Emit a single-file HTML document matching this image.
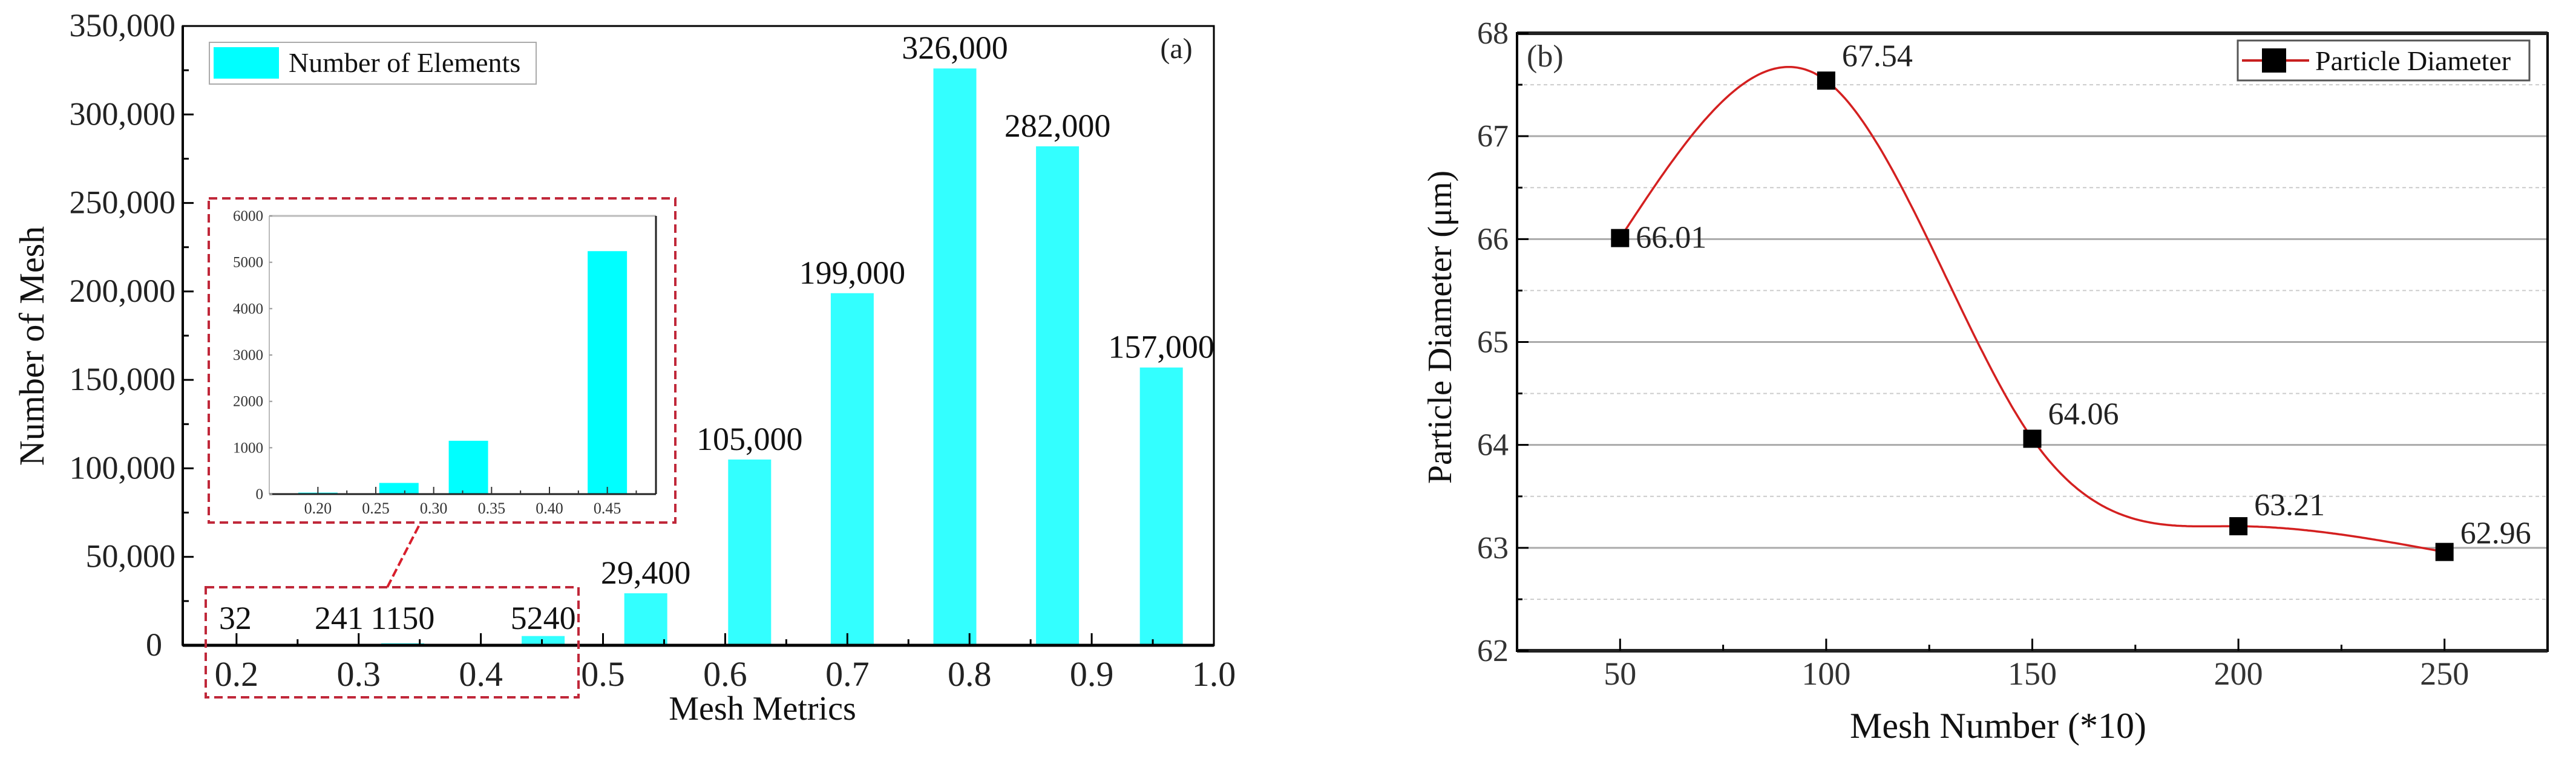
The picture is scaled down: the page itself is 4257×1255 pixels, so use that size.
<!DOCTYPE html>
<html><head><meta charset="utf-8">
<style>
html,body{margin:0;padding:0;background:#fff;}
svg{display:block;}
svg text{font-family:"Liberation Serif","Times New Roman","DejaVu Serif",serif;}
</style></head>
<body>
<svg id="fig" width="4257" height="1255" viewBox="0 0 4257 1255" xmlns="http://www.w3.org/2000/svg" font-family="Liberation Serif, Times New Roman, serif">
<g id="chartA"></g>
<g id="chartB"></g>
</svg>
<script>
// ---- Chart (a) data ----
const barX = [0.199, 0.284, 0.336, 0.451, 0.535, 0.620, 0.704, 0.788, 0.872, 0.957];
const barValues = [32, 241, 1150, 5240, 29400, 105000, 199000, 326000, 282000, 157000];
const barLabels = ["32", "241", "1150", "5240", "29,400", "105,000", "199,000", "326,000", "282,000", "157,000"];
const yTicksA = [0, 50000, 100000, 150000, 200000, 250000, 300000, 350000];
const yTickLabelsA = ["0", "50,000", "100,000", "150,000", "200,000", "250,000", "300,000", "350,000"];
const xTicksA = [0.2, 0.3, 0.4, 0.5, 0.6, 0.7, 0.8, 0.9, 1.0];
const xTickLabelsA = ["0.2", "0.3", "0.4", "0.5", "0.6", "0.7", "0.8", "0.9", "1.0"];
// inset
const insetX = [0.20, 0.27, 0.33, 0.45];
const insetValues = [32, 241, 1150, 5240];
const insetYTicks = [0, 1000, 2000, 3000, 4000, 5000, 6000];
const insetXTicks = [0.20, 0.25, 0.30, 0.35, 0.40, 0.45];
const insetXTickLabels = ["0.20", "0.25", "0.30", "0.35", "0.40", "0.45"];
// ---- Chart (b) data ----
const meshNumbers = [50, 100, 150, 200, 250];
const diameters = [66.01, 67.54, 64.06, 63.21, 62.96];
const diameterLabels = ["66.01", "67.54", "64.06", "63.21", "62.96"];
const yTicksB = [62, 63, 64, 65, 66, 67, 68];
const xTicksB = [50, 100, 150, 200, 250];

const NS = "http://www.w3.org/2000/svg";
const SERIF = '"Liberation Serif", "Times New Roman", "DejaVu Serif", serif';
function mk(parent, tag, attrs, text) {
  const e = document.createElementNS(NS, tag);
  for (const k in attrs) e.setAttribute(k, attrs[k]);
  if (tag === 'text') e.style.fontFamily = SERIF;
  if (text !== undefined) e.textContent = text;
  parent.appendChild(e);
  return e;
}

// ================= Chart A =================
const A = document.getElementById('chartA');
const aL = 302, aR = 2006, aT = 43, aB = 1067;
const axMin = 0.156, axMax = 1.0, ayMax = 350000;
const ax = v => aL + (v - axMin) / (axMax - axMin) * (aR - aL);
const ay = v => aB - v / ayMax * (aB - aT);

barValues.forEach((v, i) => {
  const w = 71;
  const r = mk(A, 'rect', {x: ax(barX[i]) - w / 2, y: ay(v), width: w, height: aB - ay(v), fill: '#33ffff'});
  
  
  const small = i < 4;
  const t = mk(A, 'text', {x: ax(barX[i]), y: small ? 1040 : ay(v) - 16, 'font-size': 54, 'text-anchor': 'middle', fill: '#111'}, barLabels[i]);
  
  
});

const frameA = mk(A, 'rect', {x: aL, y: aT, width: aR - aL, height: aB - aT, fill: 'none', stroke: '#000', 'stroke-width': 3});


mk(A, 'line', {x1: aL, y1: aB, x2: aR, y2: aB, stroke: '#000', 'stroke-width': 5});
mk(A, 'line', {x1: aL, y1: aT, x2: aL, y2: aB, stroke: '#000', 'stroke-width': 4});

yTicksA.forEach((v, i) => {
  mk(A, 'line', {x1: aL, y1: ay(v), x2: aL + 18, y2: ay(v), stroke: '#000', 'stroke-width': 3});
  if (i < yTicksA.length - 1) mk(A, 'line', {x1: aL, y1: ay(v + 25000), x2: aL + 10, y2: ay(v + 25000), stroke: '#000', 'stroke-width': 3});
  const t = mk(A, 'text', {x: i === 0 ? 268 : 290, y: ay(v) + 17, 'font-size': 54, 'text-anchor': 'end', fill: '#222'}, yTickLabelsA[i]);
  
  
});
xTicksA.forEach((v, i) => {
  mk(A, 'line', {x1: ax(v), y1: aB, x2: ax(v), y2: aB - 20, stroke: '#000', 'stroke-width': 3});
  if (v - 0.05 > axMin) mk(A, 'line', {x1: ax(v - 0.05), y1: aB, x2: ax(v - 0.05), y2: aB - 10, stroke: '#000', 'stroke-width': 3});
  const t = mk(A, 'text', {x: ax(v), y: 1134, 'font-size': 58, 'text-anchor': 'middle', fill: '#222'}, xTickLabelsA[i]);
  
  
});

const xtA = mk(A, 'text', {x: 1260, y: 1190, 'font-size': 56, 'text-anchor': 'middle', fill: '#111'}, 'Mesh  Metrics');


const ytA = mk(A, 'text', {x: 0, y: 0, 'font-size': 58, 'text-anchor': 'middle', fill: '#111', transform: 'translate(72,572) rotate(-90)'}, 'Number of  Mesh');



const legA = mk(A, 'g', {});


mk(legA, 'rect', {x: 346, y: 70, width: 540, height: 69, fill: '#fff', stroke: '#aaa', 'stroke-width': 2});
mk(legA, 'rect', {x: 353, y: 78, width: 108, height: 52, fill: '#00ffff'});
mk(legA, 'text', {x: 477, y: 119, 'font-size': 46, fill: '#111'}, 'Number of Elements');
const la = mk(A, 'text', {x: 1944, y: 96, 'font-size': 48, 'text-anchor': 'middle', fill: '#222'}, '(a)');



const zb = mk(A, 'rect', {x: 340, y: 971, width: 616, height: 182, fill: 'none', stroke: '#c0283a', 'stroke-width': 4, 'stroke-dasharray': '14 8'});


mk(A, 'line', {x1: 640, y1: 971, x2: 695, y2: 864, stroke: '#d81e2c', 'stroke-width': 4, 'stroke-dasharray': '14 6'});
const ib = mk(A, 'rect', {x: 345, y: 328, width: 771, height: 536, fill: '#fff', stroke: '#c0283a', 'stroke-width': 4, 'stroke-dasharray': '14 8'});



const I = mk(A, 'g', {});


const iL = 445, iR = 1084, iT = 357, iB = 817;
const ixMin = 0.158, ixMax = 0.492, iyMax = 6000;
const ix = v => iL + (v - ixMin) / (ixMax - ixMin) * (iR - iL);
const iy = v => iB - v / iyMax * (iB - iT);
insetValues.forEach((v, i) => {
  const w = 65;
  const r = mk(I, 'rect', {x: ix(insetX[i]) - w / 2, y: iy(v), width: w, height: iB - iy(v), fill: '#00ffff'});
  
  
});
mk(I, 'line', {x1: iL, y1: iT, x2: iR, y2: iT, stroke: '#bbb', 'stroke-width': 3});
mk(I, 'line', {x1: iR, y1: iT, x2: iR, y2: iB, stroke: '#222', 'stroke-width': 3});
mk(I, 'line', {x1: iL, y1: iT, x2: iL, y2: iB, stroke: '#bbb', 'stroke-width': 2});
mk(I, 'line', {x1: iL, y1: iB, x2: iR, y2: iB, stroke: '#222', 'stroke-width': 3});
insetYTicks.forEach(v => {
  mk(I, 'line', {x1: iL, y1: iy(v), x2: iL + 5, y2: iy(v), stroke: '#999', 'stroke-width': 2});
  const t = mk(I, 'text', {x: iL - 10, y: iy(v) + 8, 'font-size': 25, 'text-anchor': 'end', fill: '#333'}, String(v));
  
  
});
insetXTicks.forEach((v, i) => {
  mk(I, 'line', {x1: ix(v), y1: iB, x2: ix(v), y2: iB - 12, stroke: '#333', 'stroke-width': 2});
  mk(I, 'line', {x1: ix(v + 0.025), y1: iB, x2: ix(v + 0.025), y2: iB - 6, stroke: '#333', 'stroke-width': 2});
  const t = mk(I, 'text', {x: ix(v), y: 849, 'font-size': 26, 'text-anchor': 'middle', fill: '#333'}, insetXTickLabels[i]);
  
  
});

// ================= Chart B =================
const B = document.getElementById('chartB');
const bL = 2507, bR = 4210, bT = 55, bB = 1076;
const bxMin = 25, bxMax = 275, byMin = 62, byMax = 68;
const bx = v => bL + (v - bxMin) / (bxMax - bxMin) * (bR - bL);
const by = v => bB - (v - byMin) / (byMax - byMin) * (bB - bT);

yTicksB.forEach((v, i) => {
  if (i > 0 && i < yTicksB.length - 1) {
    const g = mk(B, 'line', {x1: bL, y1: by(v), x2: bR, y2: by(v), stroke: '#aaa', 'stroke-width': 3});
    
    
  }
  if (i < yTicksB.length - 1) {
    mk(B, 'line', {x1: bL, y1: by(v + 0.5), x2: bR, y2: by(v + 0.5), stroke: '#ccc', 'stroke-width': 2, 'stroke-dasharray': '6 5'});
  }
});

function spline(xs, ys) {
  const n = xs.length, h = [], al = [0], l = [1], mu = [0], z = [0], c = new Array(n).fill(0), b = [], d = [];
  for (let i = 0; i < n - 1; i++) h.push(xs[i + 1] - xs[i]);
  for (let i = 1; i < n - 1; i++) al.push(3 / h[i] * (ys[i + 1] - ys[i]) - 3 / h[i - 1] * (ys[i] - ys[i - 1]));
  for (let i = 1; i < n - 1; i++) {
    l[i] = 2 * (xs[i + 1] - xs[i - 1]) - h[i - 1] * mu[i - 1];
    mu[i] = h[i] / l[i];
    z[i] = (al[i] - h[i - 1] * z[i - 1]) / l[i];
  }
  for (let j = n - 2; j >= 0; j--) {
    if (j > 0) c[j] = z[j] - mu[j] * c[j + 1];
    else c[j] = 0;
    b[j] = (ys[j + 1] - ys[j]) / h[j] - h[j] * (c[j + 1] + 2 * c[j]) / 3;
    d[j] = (c[j + 1] - c[j]) / (3 * h[j]);
  }
  return x => {
    let j = 0;
    while (j < n - 2 && x > xs[j + 1]) j++;
    const dx = x - xs[j];
    return ys[j] + b[j] * dx + c[j] * dx * dx + d[j] * dx * dx * dx;
  };
}
const f = spline(meshNumbers, diameters);
let dpath = '';
const x0 = meshNumbers[0], x1 = meshNumbers[meshNumbers.length - 1];
for (let k = 0; k <= 400; k++) {
  const xv = x0 + (x1 - x0) * k / 400;
  dpath += (k ? 'L' : 'M') + bx(xv).toFixed(1) + ' ' + by(f(xv)).toFixed(1);
}
const curve = mk(B, 'path', {d: dpath, fill: 'none', stroke: '#d42020', 'stroke-width': 3.5});



diameters.forEach((v, i) => {
  const m = mk(B, 'rect', {x: bx(meshNumbers[i]) - 15, y: by(v) - 15, width: 30, height: 30, fill: '#000'});
  
  
  const dy = [16, -24, -24, -18, -14][i];
  const t = mk(B, 'text', {x: bx(meshNumbers[i]) + 26, y: by(v) + dy, 'font-size': 52, fill: '#222'}, diameterLabels[i]);
  
  
});

mk(B, 'rect', {x: bL, y: bT, width: bR - bL, height: bB - bT, fill: 'none', stroke: '#000', 'stroke-width': 4});
mk(B, 'line', {x1: bL, y1: bB, x2: bR, y2: bB, stroke: '#222', 'stroke-width': 6});
mk(B, 'line', {x1: bL, y1: bT, x2: bR, y2: bT, stroke: '#222', 'stroke-width': 6});

yTicksB.forEach((v, i) => {
  mk(B, 'line', {x1: bL, y1: by(v), x2: bL + 19, y2: by(v), stroke: '#000', 'stroke-width': 3});
  if (i < yTicksB.length - 1) mk(B, 'line', {x1: bL, y1: by(v + 0.5), x2: bL + 9, y2: by(v + 0.5), stroke: '#000', 'stroke-width': 3});
  const t = mk(B, 'text', {x: 2493, y: by(v) + 17, 'font-size': 52, 'text-anchor': 'end', fill: '#333'}, String(v));
  
  
});
xTicksB.forEach(v => {
  mk(B, 'line', {x1: bx(v), y1: bB, x2: bx(v), y2: bB - 20, stroke: '#000', 'stroke-width': 3});
  mk(B, 'line', {x1: bx(v + 25), y1: bB, x2: bx(v + 25), y2: bB - 10, stroke: '#000', 'stroke-width': 3});
  const t = mk(B, 'text', {x: bx(v), y: 1132, 'font-size': 54, 'text-anchor': 'middle', fill: '#333'}, String(v));
  
  
});
const xtB = mk(B, 'text', {x: 3302, y: 1220, 'font-size': 60, 'text-anchor': 'middle', fill: '#111'}, 'Mesh Number (*10)');


const ytB = mk(B, 'text', {x: 0, y: 0, 'font-size': 56, 'text-anchor': 'middle', fill: '#111', transform: 'translate(2398,541) rotate(-90)'}, 'Particle Diameter (\u03bcm)');



const lb = mk(B, 'text', {x: 2523, y: 110, 'font-size': 52, fill: '#333'}, '(b)');



const legB = mk(B, 'g', {});


mk(legB, 'rect', {x: 3698, y: 67, width: 482, height: 66, fill: '#fff', stroke: '#555', 'stroke-width': 3});
mk(legB, 'line', {x1: 3705, y1: 100, x2: 3816, y2: 100, stroke: '#c82020', 'stroke-width': 4});
mk(legB, 'rect', {x: 3738, y: 80, width: 40, height: 40, fill: '#000'});
mk(legB, 'text', {x: 3826, y: 116, 'font-size': 46, fill: '#111'}, 'Particle Diameter');
</script>
</body></html>
